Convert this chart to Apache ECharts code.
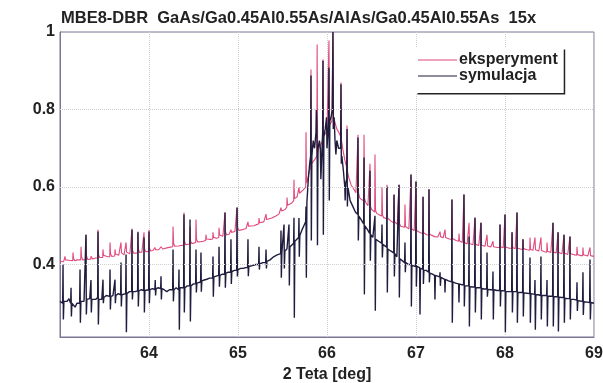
<!DOCTYPE html>
<html>
<head>
<meta charset="utf-8">
<script src="https://cdn.jsdelivr.net/npm/echarts@6/dist/echarts.min.js"></script>
<style>html,body{margin:0;padding:0;background:#fff}#c{width:603px;height:383px}</style>
</head>
<body>
<div id="c"></div>
<script>
const titleText = 'MBE8-DBR  GaAs/Ga0.45Al0.55As/AlAs/Ga0.45Al0.55As  15x';
const seriesNames = ['eksperyment', 'symulacja'];
const xAxisName = '2 Teta [deg]';
const yAxisName = 'Ln(Intensywność)';
const xRange = [63, 69];
const yRange = [0.213, 1];
const yTickValues = [0.4, 0.6, 0.8, 1];
const yGridValues = [0.4, 0.6, 0.8];

const eksperyment = [
[63.000,0.408],[63.02,0.41],[63.04,0.407],
[63.053,0.409],[63.056,0.421],[63.062,0.412],[63.075,0.409],
[63.10,0.411],[63.12,0.408],
[63.143,0.41],[63.146,0.431],[63.152,0.416],[63.165,0.41],
[63.19,0.412],[63.21,0.41],
[63.233,0.412],[63.236,0.446],[63.242,0.42],[63.255,0.412],
[63.27,0.414],
[63.289,0.413],[63.292,0.477],[63.298,0.422],[63.311,0.413],
[63.33,0.415],
[63.345,0.414],[63.348,0.421],[63.354,0.416],[63.367,0.414],
[63.40,0.417],
[63.424,0.417],[63.427,0.490],[63.433,0.425],[63.446,0.418],
[63.465,0.418],
[63.480,0.418],[63.483,0.439],[63.489,0.424],[63.502,0.419],
[63.535,0.42],
[63.559,0.42],[63.562,0.457],[63.568,0.428],[63.581,0.421],
[63.60,0.422],
[63.615,0.422],[63.618,0.439],[63.624,0.427],[63.637,0.423],
[63.66,0.424],
[63.682,0.424],[63.685,0.457],[63.691,0.43],[63.704,0.425],
[63.72,0.425],
[63.739,0.426],[63.742,0.457],[63.748,0.432],[63.761,0.427],
[63.785,0.428],
[63.806,0.428],[63.809,0.493],[63.815,0.436],[63.828,0.429],
[63.85,0.43],
[63.873,0.43],[63.876,0.485],[63.882,0.438],[63.895,0.431],
[63.92,0.432],
[63.941,0.432],[63.944,0.483],[63.950,0.44],[63.963,0.433],
[63.98,0.434],
[63.997,0.434],[64.000,0.490],[64.006,0.442],[64.019,0.435],
[64.045,0.436],
[64.064,0.436],[64.067,0.444],[64.073,0.438],[64.086,0.437],
[64.11,0.438],
[64.132,0.44],[64.135,0.446],[64.141,0.442],[64.154,0.44],
[64.20,0.443],[64.24,0.445],
[64.267,0.446],[64.270,0.498],[64.276,0.455],[64.289,0.447],
[64.33,0.448],[64.36,0.449],
[64.390,0.45],[64.393,0.534],[64.399,0.46],[64.412,0.451],
[64.435,0.452],
[64.458,0.453],[64.461,0.498],[64.467,0.46],[64.480,0.454],
[64.50,0.455],
[64.525,0.457],[64.528,0.516],[64.534,0.465],[64.547,0.458],
[64.58,0.459],[64.61,0.46],
[64.637,0.462],[64.640,0.477],[64.646,0.466],[64.659,0.463],
[64.69,0.465],
[64.716,0.466],[64.719,0.483],[64.725,0.47],[64.738,0.467],
[64.76,0.468],
[64.784,0.47],[64.787,0.495],[64.793,0.476],[64.806,0.471],
[64.83,0.473],
[64.851,0.475],[64.854,0.534],[64.860,0.484],[64.873,0.476],
[64.90,0.478],
[64.918,0.48],[64.921,0.490],[64.927,0.483],[64.940,0.481],
[64.965,0.485],
[64.986,0.487],[64.989,0.547],[64.995,0.496],[65.008,0.488],
[65.05,0.49],[65.09,0.493],
[65.109,0.495],[65.112,0.51],[65.118,0.499],[65.131,0.496],
[65.18,0.50],[65.21,0.503],
[65.233,0.505],[65.236,0.52],[65.242,0.508],[65.255,0.506],
[65.29,0.51],
[65.312,0.512],[65.315,0.53],[65.321,0.516],[65.334,0.514],
[65.38,0.52],[65.43,0.526],[65.46,0.53],
[65.480,0.535],[65.483,0.547],[65.489,0.538],[65.502,0.537],
[65.53,0.542],
[65.548,0.548],[65.551,0.573],[65.557,0.553],[65.570,0.552],
[65.60,0.558],
[65.626,0.565],[65.629,0.619],[65.635,0.57],[65.648,0.568],
[65.665,0.575],
[65.682,0.58],[65.685,0.60],[65.691,0.584],[65.704,0.585],
[65.73,0.592],
[65.761,0.60],[65.764,0.741],[65.770,0.61],[65.783,0.62],
[65.80,0.64],
[65.817,0.65],[65.820,0.903],[65.826,0.66],[65.839,0.66],
[65.86,0.67],
[65.886,0.68],[65.889,0.968],[65.895,0.69],[65.908,0.70],
[65.93,0.71],
[65.952,0.72],[65.955,0.929],[65.961,0.73],[65.974,0.73],
[66.00,0.745],
[66.019,0.75],[66.022,0.978],[66.028,0.76],[66.041,0.76],
[66.055,0.77],
[66.064,0.77],[66.067,1.0],[66.073,0.78],[66.086,0.77],
[66.11,0.75],[66.135,0.74],
[66.154,0.73],[66.157,0.87],[66.163,0.72],[66.176,0.70],
[66.20,0.67],
[66.222,0.65],[66.225,0.759],[66.231,0.64],[66.244,0.625],
[66.27,0.606],[66.30,0.595],[66.325,0.585],
[66.345,0.58],[66.348,0.735],[66.354,0.585],[66.367,0.572],
[66.39,0.567],
[66.413,0.565],[66.416,0.735],[66.422,0.57],[66.435,0.56],
[66.46,0.552],
[66.480,0.548],[66.483,0.66],[66.489,0.55],[66.502,0.542],
[66.52,0.538],
[66.536,0.535],[66.539,0.684],[66.545,0.54],[66.558,0.532],
[66.59,0.528],
[66.615,0.525],[66.618,0.60],[66.624,0.527],[66.637,0.521],
[66.655,0.52],
[66.671,0.518],[66.674,0.606],[66.680,0.52],[66.693,0.515],
[66.72,0.512],
[66.750,0.508],[66.753,0.581],[66.759,0.51],[66.772,0.505],
[66.79,0.504],
[66.806,0.502],[66.809,0.606],[66.815,0.505],[66.828,0.499],
[66.85,0.498],
[66.873,0.496],[66.876,0.555],[66.882,0.498],[66.895,0.494],
[66.92,0.492],
[66.941,0.49],[66.944,0.632],[66.950,0.493],[66.963,0.488],
[66.98,0.487],
[66.997,0.486],[67.000,0.614],[67.006,0.488],[67.019,0.484],
[67.05,0.482],
[67.076,0.48],[67.079,0.575],[67.085,0.482],[67.098,0.478],
[67.12,0.477],
[67.143,0.476],[67.146,0.594],[67.152,0.478],[67.165,0.474],
[67.21,0.472],[67.245,0.471],
[67.267,0.47],[67.270,0.485],[67.276,0.472],[67.289,0.469],
[67.305,0.469],
[67.323,0.468],[67.326,0.490],[67.332,0.47],[67.345,0.467],
[67.375,0.466],
[67.401,0.465],[67.404,0.568],[67.410,0.467],[67.423,0.463],
[67.45,0.462],
[67.480,0.46],[67.483,0.48],[67.489,0.461],[67.502,0.458],
[67.52,0.457],
[67.536,0.455],[67.539,0.581],[67.545,0.457],[67.558,0.454],
[67.575,0.453],
[67.593,0.452],[67.596,0.508],[67.602,0.454],[67.615,0.451],
[67.64,0.451],
[67.660,0.45],[67.663,0.521],[67.669,0.452],[67.682,0.449],
[67.705,0.449],
[67.727,0.448],[67.730,0.508],[67.736,0.45],[67.749,0.447],
[67.775,0.447],
[67.795,0.446],[67.798,0.477],[67.804,0.448],[67.817,0.446],
[67.84,0.445],
[67.862,0.445],[67.865,0.46],[67.871,0.446],[67.884,0.444],
[67.915,0.444],
[67.941,0.444],[67.944,0.503],[67.950,0.446],[67.963,0.443],
[67.98,0.443],
[67.997,0.443],[68.000,0.529],[68.006,0.445],[68.019,0.442],
[68.05,0.442],
[68.076,0.442],[68.079,0.483],[68.085,0.444],[68.098,0.441],
[68.115,0.441],
[68.132,0.44],[68.135,0.534],[68.141,0.442],[68.154,0.44],
[68.175,0.44],
[68.199,0.439],[68.202,0.465],[68.208,0.441],[68.221,0.438],
[68.25,0.438],
[68.278,0.437],[68.281,0.470],[68.287,0.439],[68.300,0.437],
[68.315,0.437],
[68.334,0.436],[68.337,0.470],[68.343,0.438],[68.356,0.435],
[68.38,0.435],
[68.401,0.434],[68.404,0.470],[68.410,0.436],[68.423,0.433],
[68.445,0.433],
[68.469,0.432],[68.472,0.457],[68.478,0.434],[68.491,0.431],
[68.515,0.431],
[68.536,0.43],[68.539,0.508],[68.545,0.432],[68.558,0.43],
[68.575,0.43],
[68.593,0.429],[68.596,0.483],[68.602,0.431],[68.615,0.428],
[68.64,0.428],
[68.660,0.427],[68.663,0.477],[68.669,0.429],[68.682,0.426],
[68.705,0.426],
[68.727,0.426],[68.730,0.472],[68.736,0.428],[68.749,0.425],
[68.78,0.425],
[68.806,0.424],[68.809,0.446],[68.815,0.426],[68.828,0.424],
[68.85,0.423],
[68.873,0.423],[68.876,0.444],[68.882,0.425],[68.895,0.423],
[68.93,0.422],
[68.952,0.421],[68.955,0.444],[68.961,0.423],[68.974,0.421],
[69.0,0.421]
];

const symulacja = [
[63.000,0.305],[63.015,0.31],[63.030,0.30],
[63.034,0.40],[63.038,0.258],[63.044,0.305],
[63.06,0.31],[63.08,0.305],[63.10,0.312],
[63.120,0.30],[63.124,0.34],[63.128,0.266],[63.134,0.30],
[63.15,0.295],[63.17,0.29],[63.19,0.30],[63.205,0.305],
[63.221,0.30],[63.225,0.387],[63.229,0.250],[63.235,0.305],
[63.25,0.31],[63.27,0.305],
[63.288,0.31],[63.292,0.477],[63.296,0.271],[63.302,0.31],
[63.32,0.305],[63.334,0.312],
[63.344,0.31],[63.348,0.36],[63.352,0.276],[63.358,0.31],
[63.38,0.315],[63.40,0.31],
[63.423,0.315],[63.427,0.485],[63.431,0.245],[63.437,0.31],
[63.455,0.315],[63.47,0.31],
[63.479,0.315],[63.483,0.361],[63.487,0.30],[63.493,0.315],
[63.52,0.32],[63.54,0.315],
[63.558,0.318],[63.562,0.387],[63.566,0.284],[63.572,0.318],
[63.595,0.32],
[63.614,0.32],[63.618,0.361],[63.622,0.30],[63.628,0.32],
[63.655,0.325],
[63.681,0.322],[63.685,0.405],[63.689,0.292],[63.695,0.322],
[63.715,0.325],
[63.738,0.325],[63.742,0.426],[63.746,0.225],[63.752,0.325],
[63.78,0.33],
[63.805,0.33],[63.809,0.490],[63.813,0.31],[63.819,0.33],
[63.845,0.33],
[63.872,0.332],[63.876,0.483],[63.880,0.292],[63.886,0.332],
[63.915,0.335],
[63.940,0.333],[63.944,0.470],[63.948,0.276],[63.954,0.333],
[63.975,0.335],
[63.996,0.335],[64.000,0.485],[64.004,0.30],[64.010,0.335],
[64.04,0.338],
[64.066,0.335],[64.070,0.36],[64.074,0.32],[64.080,0.338],
[64.105,0.34],
[64.131,0.338],[64.135,0.37],[64.139,0.31],[64.145,0.338],
[64.17,0.335],[64.20,0.33],[64.23,0.335],
[64.266,0.335],[64.270,0.439],[64.274,0.305],[64.280,0.335],
[64.305,0.34],
[64.333,0.335],[64.337,0.387],[64.341,0.232],[64.347,0.34],
[64.365,0.338],
[64.389,0.34],[64.393,0.529],[64.397,0.276],[64.403,0.34],
[64.43,0.345],
[64.457,0.345],[64.461,0.516],[64.465,0.253],[64.471,0.345],
[64.50,0.35],
[64.524,0.35],[64.528,0.439],[64.532,0.328],[64.538,0.352],
[64.555,0.355],
[64.580,0.355],[64.584,0.431],[64.588,0.33],[64.594,0.358],
[64.62,0.36],[64.65,0.362],[64.68,0.365],
[64.715,0.365],[64.719,0.421],[64.723,0.317],[64.729,0.368],
[64.755,0.37],
[64.783,0.372],[64.787,0.446],[64.791,0.343],[64.797,0.372],
[64.825,0.375],
[64.850,0.375],[64.854,0.534],[64.858,0.34],[64.864,0.378],
[64.89,0.38],
[64.917,0.38],[64.921,0.465],[64.925,0.35],[64.931,0.382],
[64.96,0.385],
[64.985,0.385],[64.989,0.547],[64.993,0.369],[64.999,0.387],
[65.03,0.39],[65.06,0.39],[65.085,0.392],
[65.108,0.392],[65.112,0.465],[65.116,0.37],[65.122,0.395],
[65.16,0.397],[65.20,0.40],
[65.232,0.40],[65.236,0.446],[65.240,0.387],[65.246,0.402],
[65.28,0.405],
[65.311,0.405],[65.315,0.439],[65.319,0.39],[65.325,0.408],
[65.36,0.412],[65.40,0.42],[65.44,0.425],
[65.479,0.428],[65.483,0.488],[65.487,0.366],[65.493,0.43],
[65.513,0.432],[65.517,0.503],[65.521,0.39],[65.527,0.435],
[65.55,0.44],
[65.569,0.44],[65.573,0.503],[65.577,0.346],[65.583,0.445],
[65.605,0.45],
[65.625,0.455],[65.629,0.521],[65.633,0.263],[65.639,0.46],
[65.66,0.465],
[65.681,0.47],[65.685,0.52],[65.689,0.42],[65.695,0.475],
[65.72,0.49],[65.74,0.50],
[65.760,0.51],[65.764,0.55],[65.768,0.366],[65.774,0.56],
[65.79,0.62],[65.805,0.66],
[65.816,0.68],[65.820,0.888],[65.824,0.462],[65.830,0.68],
[65.845,0.72],[65.86,0.70],
[65.876,0.74],[65.880,0.80],[65.885,0.772],[65.889,0.70],[65.893,0.45],[65.899,0.70],
[65.915,0.72],[65.925,0.70],[65.931,0.62],
[65.951,0.74],[65.955,0.926],[65.959,0.477],[65.965,0.73],
[65.98,0.75],[65.995,0.78],[66.000,0.70],
[66.018,0.77],[66.022,0.908],[66.026,0.565],[66.032,0.77],
[66.045,0.78],[66.060,0.80],
[66.063,0.80],[66.067,1.0],[66.071,0.75],[66.08,0.78],[66.09,0.72],
[66.100,0.684],[66.11,0.72],[66.13,0.70],
[66.153,0.70],[66.157,0.865],[66.161,0.66],[66.167,0.68],
[66.185,0.64],[66.20,0.60],[66.204,0.565],[66.21,0.61],
[66.221,0.62],[66.225,0.75],[66.229,0.55],[66.235,0.60],
[66.26,0.565],[66.29,0.55],[66.32,0.535],
[66.344,0.53],[66.348,0.728],[66.352,0.462],[66.358,0.525],
[66.385,0.515],
[66.412,0.505],[66.416,0.676],[66.420,0.323],[66.426,0.50],
[66.455,0.49],
[66.479,0.48],[66.483,0.642],[66.487,0.41],[66.493,0.477],
[66.515,0.47],
[66.535,0.47],[66.539,0.526],[66.543,0.281],[66.549,0.465],
[66.58,0.46],
[66.614,0.455],[66.618,0.503],[66.622,0.418],[66.628,0.452],
[66.65,0.45],
[66.670,0.445],[66.674,0.601],[66.678,0.328],[66.684,0.44],
[66.715,0.435],
[66.749,0.43],[66.753,0.58],[66.757,0.369],[66.763,0.428],
[66.785,0.42],
[66.805,0.42],[66.809,0.606],[66.813,0.315],[66.819,0.415],
[66.845,0.41],
[66.872,0.405],[66.876,0.457],[66.880,0.38],[66.886,0.405],
[66.915,0.40],
[66.940,0.40],[66.944,0.632],[66.948,0.292],[66.954,0.398],
[66.975,0.397],
[66.996,0.395],[67.000,0.614],[67.004,0.343],[67.010,0.395],
[67.025,0.39],[67.041,0.392],[67.045,0.271],[67.05,0.39],
[67.075,0.388],[67.079,0.575],[67.083,0.35],[67.089,0.385],
[67.115,0.385],
[67.142,0.38],[67.146,0.594],[67.150,0.354],[67.156,0.378],
[67.185,0.375],
[67.209,0.372],[67.213,0.31],[67.218,0.372],
[67.24,0.37],
[67.266,0.368],[67.270,0.38],[67.274,0.345],[67.28,0.367],
[67.30,0.365],
[67.322,0.362],[67.326,0.328],[67.33,0.362],
[67.365,0.358],
[67.400,0.355],[67.404,0.568],[67.408,0.250],[67.414,0.355],
[67.445,0.352],
[67.479,0.35],[67.483,0.302],[67.487,0.35],
[67.51,0.348],
[67.535,0.348],[67.539,0.581],[67.543,0.292],[67.549,0.345],
[67.57,0.345],
[67.592,0.345],[67.596,0.472],[67.600,0.240],[67.606,0.343],
[67.63,0.342],
[67.659,0.342],[67.663,0.521],[67.667,0.276],[67.673,0.34],
[67.70,0.34],
[67.726,0.34],[67.730,0.508],[67.734,0.258],[67.740,0.338],
[67.765,0.337],
[67.794,0.337],[67.798,0.431],[67.802,0.317],[67.808,0.336],
[67.835,0.335],
[67.861,0.335],[67.865,0.382],[67.869,0.258],[67.875,0.335],
[67.91,0.333],
[67.940,0.333],[67.944,0.503],[67.948,0.292],[67.954,0.333],
[67.975,0.332],
[67.996,0.332],[68.000,0.529],[68.004,0.225],[68.010,0.33],
[68.04,0.33],
[68.075,0.33],[68.079,0.483],[68.083,0.276],[68.089,0.33],
[68.11,0.33],
[68.131,0.33],[68.135,0.534],[68.139,0.25],[68.145,0.328],
[68.17,0.328],
[68.198,0.328],[68.202,0.465],[68.206,0.266],[68.212,0.327],
[68.245,0.326],
[68.277,0.325],[68.281,0.418],[68.285,0.25],[68.291,0.325],
[68.31,0.324],
[68.333,0.323],[68.337,0.36],[68.341,0.232],[68.347,0.322],
[68.375,0.322],
[68.400,0.32],[68.404,0.421],[68.408,0.258],[68.414,0.32],
[68.44,0.32],
[68.468,0.32],[68.472,0.36],[68.476,0.24],[68.482,0.318],
[68.51,0.318],
[68.535,0.318],[68.539,0.508],[68.543,0.24],[68.549,0.317],
[68.57,0.317],
[68.592,0.317],[68.596,0.483],[68.600,0.227],[68.606,0.316],
[68.635,0.315],
[68.659,0.315],[68.663,0.477],[68.667,0.25],[68.673,0.313],
[68.70,0.312],
[68.726,0.312],[68.730,0.472],[68.734,0.258],[68.740,0.31],
[68.775,0.31],
[68.805,0.308],[68.809,0.354],[68.813,0.28],[68.819,0.307],
[68.845,0.306],
[68.872,0.305],[68.876,0.38],[68.880,0.27],[68.886,0.304],
[68.92,0.303],
[68.951,0.302],[68.955,0.413],[68.959,0.258],[68.965,0.302],
[69.0,0.30]
];

const FONT = 'Liberation Sans, Arial, sans-serif';
const chart = echarts.init(document.getElementById('c'), null, {renderer: 'canvas'});
chart.setOption({
  animation: false,
  backgroundColor: '#ffffff',
  title: {
    text: titleText, left: 56, top: 5,
    textStyle: {fontFamily: FONT, fontSize: 16.5, fontWeight: 'bold', color: '#222'}
  },
  grid: {left: 60, right: 9, top: 32, bottom: 46, outerBoundsMode: 'none', containLabel: false,
         show: true, borderColor: '#7d7596', borderWidth: 1, backgroundColor: 'transparent'},
  legend: {
    data: seriesNames, orient: 'vertical', left: 416, top: 48,
    icon: 'rect', itemWidth: 39, itemHeight: 1, itemGap: 0,
    padding: [4, 6, 9, 2],
    backgroundColor: '#fff', borderWidth: 0,
    shadowColor: '#222', shadowBlur: 0, shadowOffsetX: 1.5, shadowOffsetY: 1.5,
    textStyle: {fontFamily: FONT, fontSize: 16, fontWeight: 'bold', color: '#222', lineHeight: 14, padding: [0,0,0,-3]}
  },
  xAxis: {
    type: 'value', min: xRange[0], max: xRange[1], interval: 1,
    name: xAxisName, nameLocation: 'middle', nameGap: 28,
    nameTextStyle: {fontFamily: FONT, fontSize: 16, fontWeight: 'bold', color: '#222'},
    axisLine: {show: true, lineStyle: {color: '#7d7596'}},
    axisTick: {show: false},
    axisLabel: {showMinLabel: false, margin: 9, fontFamily: FONT, fontSize: 16, fontWeight: 'bold', color: '#222'},
    splitLine: {show: true, lineStyle: {color: '#cfcfcf', type: 'dotted', width: 1}}
  },
  yAxis: {
    type: 'value', min: yRange[0], max: yRange[1],
    name: yAxisName, nameLocation: 'middle', nameGap: 40, nameRotate: 90,
    nameTextStyle: {fontFamily: FONT, fontSize: 16, fontWeight: 'bold', color: '#222', padding: [0, 0, 22, 0]},
    axisLine: {show: true, lineStyle: {color: '#7d7596'}},
    axisTick: {show: false, customValues: yTickValues},
    axisLabel: {customValues: yTickValues, margin: 5, fontFamily: FONT, fontSize: 16, fontWeight: 'bold', color: '#222'},
    splitLine: {show: false}
  },
  series: [
    {
      name: 'grid', type: 'line', data: [], z: 1, silent: true,
      markLine: {
        silent: true, symbol: 'none', label: {show: false},
        lineStyle: {color: '#cfcfcf', type: 'dotted', width: 1},
        data: yGridValues.map(v => ({yAxis: v}))
      }
    },
    {
      name: seriesNames[0], type: 'line', data: eksperyment, showSymbol: false, symbol: 'none',
      color: '#e04a7c', lineStyle: {width: 1.1, color: '#e04a7c'}, z: 3
    },
    {
      name: seriesNames[1], type: 'line', data: symulacja, showSymbol: false, symbol: 'none',
      color: '#1f1c3d', lineStyle: {width: 1.4, color: '#1f1c3d'}, z: 4
    }
  ]
});
</script>
</body>
</html>
